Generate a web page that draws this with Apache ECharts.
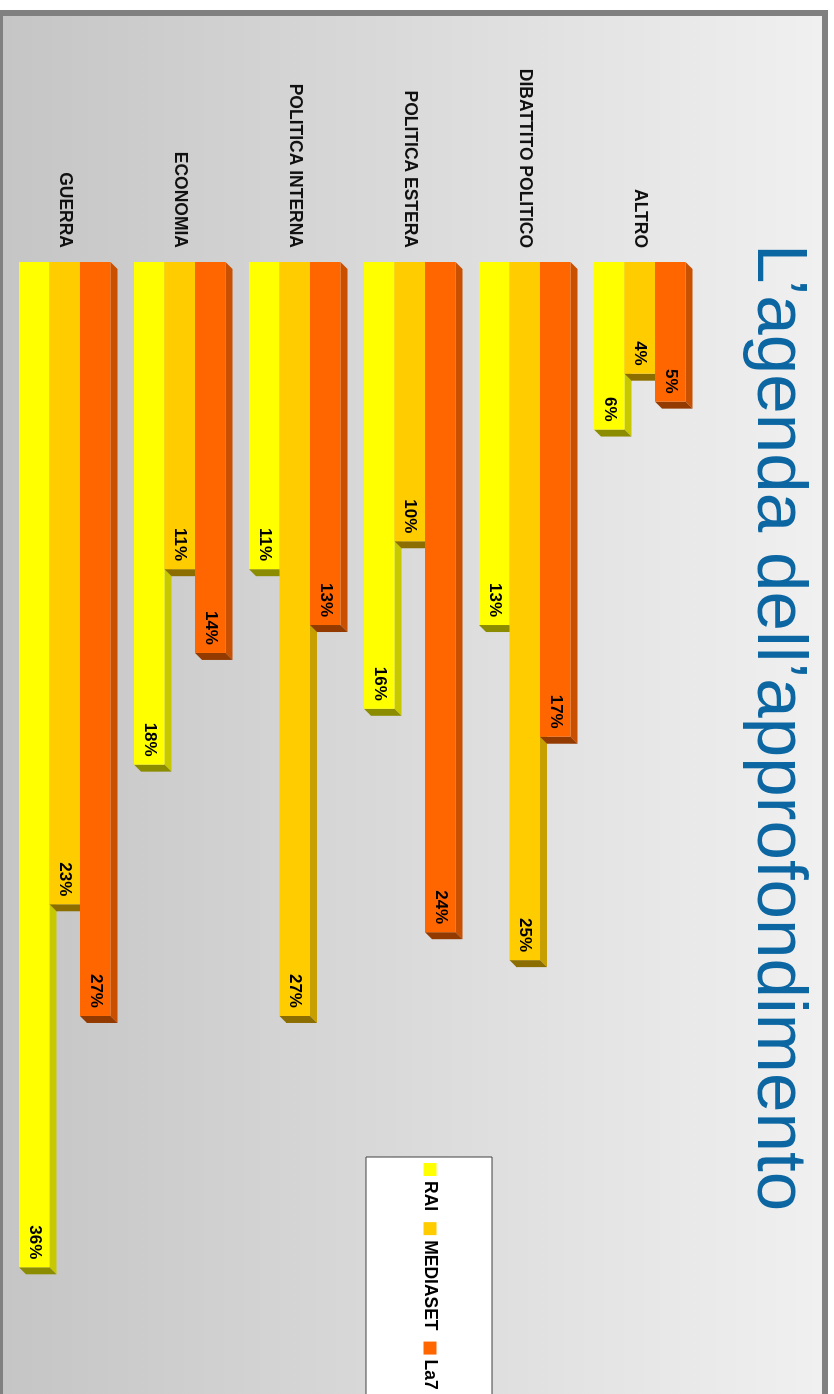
<!DOCTYPE html>
<html>
<head>
<meta charset="utf-8">
<script src="https://cdn.jsdelivr.net/npm/echarts@6/dist/echarts.min.js"></script>
<style>
  html, body { margin: 0; padding: 0; background: #ffffff; overflow: hidden; }
  body { width: 834px; height: 1394px; position: relative; }
  /* slide is laid out landscape, then turned a quarter clockwise */
  #slide {
    position: absolute; left: 0; top: 0;
    width: 1500px; height: 831px;
    box-sizing: border-box;
    border: 6px solid #808080;
    transform-origin: 0 0;
    transform: translate(828px, 10px) rotate(90deg);
  }
  #chart { width: 1488px; height: 819px; }
</style>
</head>
<body>
<div id="slide"><div id="chart"></div></div>
<script>
// Topics (top to bottom) and share of coverage per network, in percent
const categories = ['ALTRO', 'DIBATTITO POLITICO', 'POLITICA ESTERA', 'POLITICA INTERNA', 'ECONOMIA', 'GUERRA'];
const seriesNames = ['RAI', 'MEDIASET', 'La7'];
const raiValues = [6, 13, 16, 11, 18, 36];
const mediasetValues = [4, 25, 10, 27, 11, 23];
const la7Values = [5, 17, 24, 13, 14, 27];

const FONT = '"Liberation Sans", Arial, Helvetica, sans-serif';
const BAR_RATIO = 0.265;   // width of one bar as a share of the category band
const DEPTH = 7;           // extrusion of the 3D faces, px

// front / top / end face colours for each network
const palette = {
  RAI:      { front: '#ffff00', top: '#c8c800', end: '#8c8c00' },
  MEDIASET: { front: '#ffcc00', top: '#c89f00', end: '#8c6e00' },
  La7:      { front: '#ff6600', top: '#c85000', end: '#933a00' }
};

function toData(values) {
  return values.map(function (v, i) { return [v, i]; });
}

// draws one extruded bar: front face, top face, end face and its value label
function makeRenderer(slot, colors) {
  return function (params, api) {
    const v = api.value(0);
    const c = api.value(1);
    const p0 = api.coord([0, c]);
    const p1 = api.coord([v, c]);
    const band = api.size([0, 1])[1];
    const w = band * BAR_RATIO;
    const yc = p0[1] + slot * w;
    const y0 = yc - w / 2, y1 = yc + w / 2;
    const x0 = p0[0], x1 = p1[0];
    const d = DEPTH;
    return {
      type: 'group',
      children: [
        { type: 'polygon',
          shape: { points: [[x0, y0], [x1, y0], [x1 + d, y0 - d], [x0 + d, y0 - d]] },
          style: { fill: colors.top } },
        { type: 'polygon',
          shape: { points: [[x1, y0], [x1 + d, y0 - d], [x1 + d, y1 - d], [x1, y1]] },
          style: { fill: colors.end } },
        { type: 'rect',
          shape: { x: x0, y: y0, width: x1 - x0, height: w },
          style: { fill: colors.front } },
        { type: 'text',
          style: {
            text: v + '%', x: x1 - 8, y: yc,
            textAlign: 'right', textVerticalAlign: 'middle',
            font: 'bold 17px ' + FONT, fill: '#000000'
          } }
      ]
    };
  };
}

const seriesValues = [raiValues, mediasetValues, la7Values];
const slots = [1, 0, -1];   // RAI lowest in each group, La7 on top

const chart = echarts.init(document.getElementById('chart'), null, { renderer: 'canvas' });

chart.setOption({
  animation: false,
  backgroundColor: {
    type: 'linear', x: 0, y: 0, x2: 0, y2: 1,
    colorStops: [
      { offset: 0, color: '#f0f0f0' },
      { offset: 1, color: '#c5c5c5' }
    ]
  },
  title: {
    text: 'L\u2019agenda dell\u2019approfondimento',
    left: 228, top: 9,
    padding: 0,
    textStyle: { fontFamily: FONT, fontSize: 71, fontWeight: 'normal', color: '#0b66a2' }
  },
  legend: {
    data: seriesNames,
    orient: 'horizontal',
    left: 1141, top: 330,
    padding: [53, 6, 55, 6],
    itemGap: 11,
    itemWidth: 13, itemHeight: 13,
    icon: 'rect',
    backgroundColor: '#ffffff',
    borderColor: '#404040', borderWidth: 1,
    textStyle: { fontFamily: FONT, fontSize: 17.5, fontWeight: 'bold', color: '#000000' }
  },
  grid: { left: 246, top: 124.7, width: 1117, height: 690 },
  xAxis: { type: 'value', min: 0, max: 40, show: false },
  yAxis: {
    type: 'category',
    data: categories,
    inverse: true,
    axisLine: { show: false },
    axisTick: { show: false },
    splitLine: { show: false },
    axisLabel: { margin: 14, fontFamily: FONT, fontSize: 17.5, fontWeight: 'bold', color: '#111111' }
  },
  series: seriesNames.map(function (name, k) {
    return {
      name: name,
      type: 'custom',
      renderItem: makeRenderer(slots[k], palette[name]),
      encode: { x: 0, y: 1 },
      itemStyle: { color: palette[name].front },
      data: toData(seriesValues[k])
    };
  })
});
</script>
</body>
</html>
